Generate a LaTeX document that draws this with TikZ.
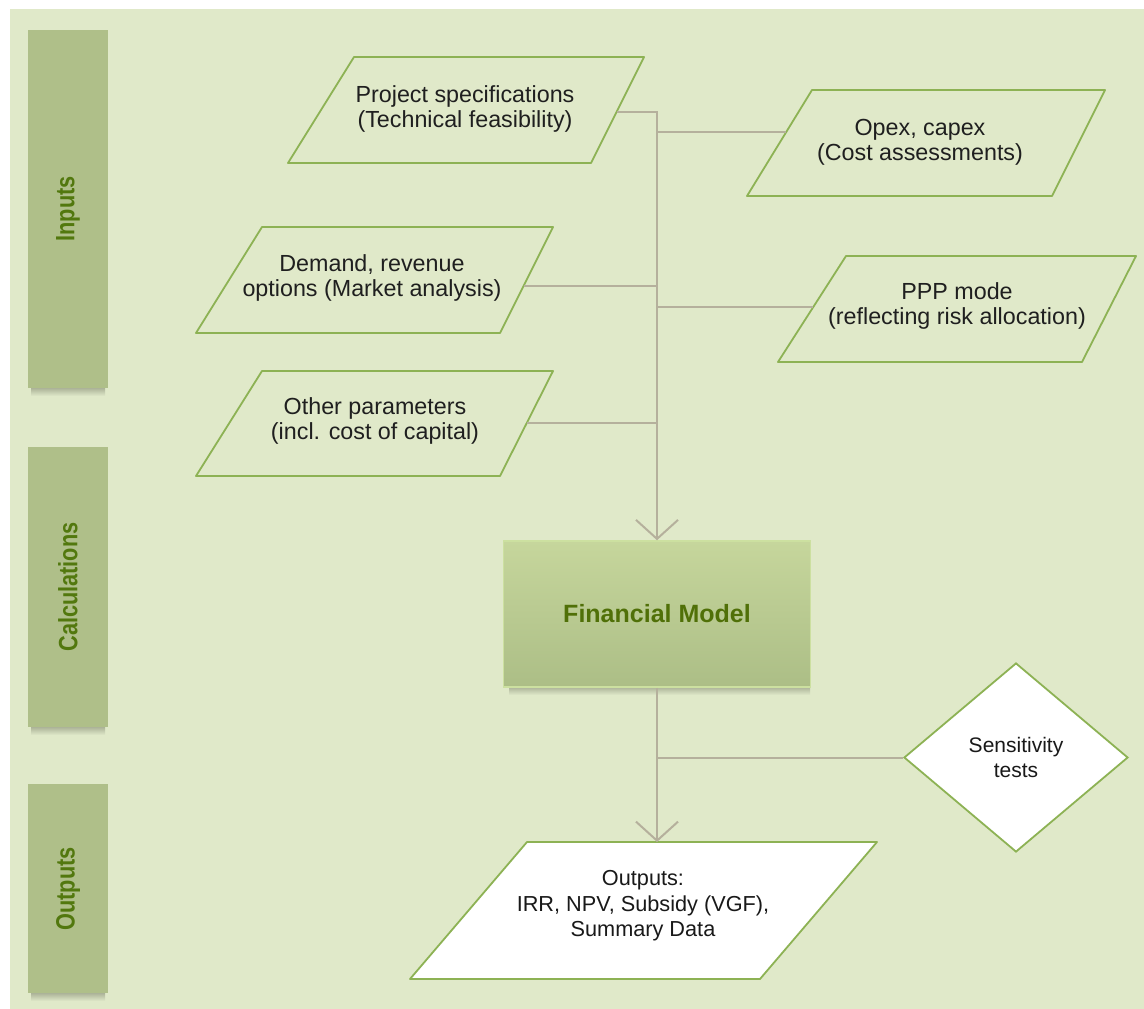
\documentclass[tikz,border=0pt]{standalone}
\usepackage{fontspec}
\setmainfont{Liberation Sans}
\newfontfamily\barfont[FakeStretch=0.82]{Liberation Sans}
\usetikzlibrary{shapes.geometric,arrows.meta}

\definecolor{panel}{RGB}{224,233,201}
\definecolor{shadowc}{RGB}{165,172,146}
\definecolor{barfill}{RGB}{175,191,137}
\definecolor{bartext}{RGB}{82,120,14}
\definecolor{edgec}{RGB}{141,178,84}
\definecolor{linkc}{RGB}{181,176,156}
\definecolor{fmtop}{RGB}{198,214,156}
\definecolor{fmbot}{RGB}{172,190,134}
\definecolor{fmedge}{RGB}{204,224,160}
\definecolor{fmtext}{RGB}{80,112,8}

\tikzset{
  phase/.style={fill=barfill},
  softshadow/.style={top color=shadowc, bottom color=panel},
  phaselabel/.style={font=\barfont\bfseries\fontsize{26.5}{30}\selectfont,
    text=bartext, rotate=90, inner sep=0pt},
  inbox/.style={draw=edgec, line width=1.8pt, line join=round},
  intext/.style={align=center, inner sep=0pt, text=black!88,
    font=\fontsize{23.3}{25}\selectfont},
  outtext/.style={align=center, inner sep=0pt, text=black!90,
    font=\fontsize{21.7}{25.5}\selectfont},
  link/.style={draw=linkc, line width=2pt},
  flowtip/.style={-{Straight Barb[length=19pt,width=42pt]}},
  fmbox/.style={rectangle, minimum width=307pt, minimum height=146pt,
    top color=fmtop, bottom color=fmbot, draw=fmedge, line width=1.5pt,
    font=\bfseries\fontsize{25}{28}\selectfont, text=fmtext},
  testbox/.style={diamond, draw=edgec, line width=1.8pt, fill=white,
    minimum width=224pt, minimum height=189pt, inner sep=0pt,
    align=center, font=\fontsize{21}{25}\selectfont, text=black!90}
}

% a phase bar with its soft shadow underneath: #1 top, #2 bottom
\newcommand\phasebar[2]{%
  \shade[softshadow] (31,#2-1) rectangle (105,#2+8);
  \path[phase] (28,#1) rectangle (108,#2);}

\begin{document}
\begin{tikzpicture}[x=1pt, y=-1pt]
  \useasboundingbox (0,0) rectangle (1144,1009);
  \fill[white] (0,0) rectangle (1144,1009);
  \fill[panel] (10,9) rectangle (1144,1009);

  % phase bars on the left
  \phasebar{30}{388}
  \phasebar{447}{727}
  \phasebar{784}{993}
  \node[phaselabel] (inputs) at (68,209) {Inputs};
  \node[phaselabel] (calcs) at (68,587) {Calculations};
  \node[phaselabel] (outs) at (68,889) {Outputs};

  % input parallelograms
  \draw[inbox] (354,57) -- (644,57) -- (591,163) -- (288,163) -- cycle;
  \node[intext] (proj) at (465,109) {Project specifications\\(Technical feasibility)};

  \draw[inbox] (812,90) -- (1105,90) -- (1052,196) -- (747,196) -- cycle;
  \node[intext] (opex) at (920,142.5) {Opex, capex\\(Cost assessments)};

  \draw[inbox] (262,227) -- (553,227) -- (500,333) -- (196,333) -- cycle;
  \node[intext] (dem) at (372,277.5) {Demand, revenue\\options (Market analysis)};

  \draw[inbox] (846,256) -- (1136,256) -- (1082,362) -- (778,362) -- cycle;
  \node[intext] (ppp) at (957,305.5) {PPP mode\\(reflecting risk allocation)};

  \draw[inbox] (262,371) -- (553,371) -- (500,476) -- (196,476) -- cycle;
  \node[intext] (oth) at (375,420.5) {Other parameters\\(incl. cost of capital)};

  % model with its shadow, tests and outputs
  \shade[softshadow] (509,686) rectangle (810,695);
  \node[fmbox] (fm) at (657,614) {Financial Model};
  \node[testbox] (sens) at (1016,757.5) {Sensitivity\\tests};

  \draw[inbox, fill=white] (527,842) -- (877,842) -- (760,979) -- (410,979) -- cycle;
  \node[outtext] (res) at (643,906) {Outputs:\\IRR, NPV, Subsidy (VGF),\\Summary Data};

  % connector end points on the slanted edges
  \coordinate (projR) at (616.5,112);
  \coordinate (bus) at (657,112);
  \coordinate (opexL) at (786,132);
  \coordinate (demR) at (523.5,286);
  \coordinate (pppL) at (813,307);
  \coordinate (othR) at (526.5,423);
  \coordinate (resT) at (657,842);

  % connectors
  \draw[link, flowtip] (projR) -- (bus) -- (fm.north);
  \draw[link] (opexL) -- (opexL -| bus);
  \draw[link] (demR) -- (demR -| bus);
  \draw[link] (pppL) -- (pppL -| bus);
  \draw[link] (othR) -- (othR -| bus);
  \draw[link, flowtip] (fm.south) -- (resT);
  \draw[link] (sens.west) -- (sens.west -| fm.south);
\end{tikzpicture}
\end{document}
